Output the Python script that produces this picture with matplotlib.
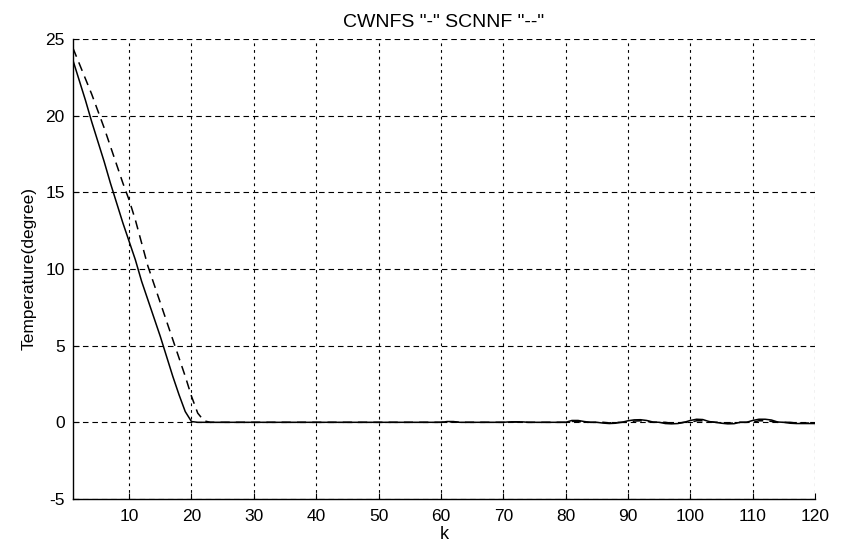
import numpy as np
import matplotlib
matplotlib.use('Agg')
import matplotlib.pyplot as plt

plt.rcParams['font.family'] = ['Liberation Sans', 'DejaVu Sans']
plt.rcParams['axes.unicode_minus'] = False

# solid curve (CWNFS), read at k = 1..120
k = np.arange(1, 121)
cwnfs_drop = [23.6, 22.3, 21.0, 19.6, 18.3, 17.0, 15.6, 14.3, 13.0, 11.8,
              10.6, 9.2, 8.0, 6.8, 5.6, 4.3, 3.0, 1.8, 0.7, 0.05]
cwnfs_tail = {61: 0.05, 62: 0.05, 71: 0.03, 72: 0.03, 73: 0.03,
              81: 0.12, 82: 0.12, 83: 0.05, 86: -0.05, 87: -0.08, 88: -0.06,
              90: 0.1, 91: 0.16, 92: 0.17, 93: 0.12, 94: 0.02, 96: -0.08, 97: -0.1, 98: -0.08,
              100: 0.12, 101: 0.2, 102: 0.18, 103: 0.05, 105: -0.06, 106: -0.1, 107: -0.09,
              110: 0.12, 111: 0.2, 112: 0.2, 113: 0.15, 114: 0.02, 116: -0.06, 117: -0.08,
              118: -0.08, 119: -0.08, 120: -0.08}

# dashed curve (SCNNF)
scnnf_drop = [24.4, 23.4, 22.4, 21.4, 20.3, 19.2, 18.0, 16.8, 15.6, 14.5,
              13.2, 11.7, 10.2, 9.0, 7.8, 6.6, 5.4, 4.2, 3.0, 1.7,
              0.6, 0.1]
scnnf_tail = {61: 0.03, 62: 0.03, 72: 0.02, 81: 0.06, 82: 0.06, 87: -0.04,
              91: 0.08, 92: 0.1, 93: 0.06, 97: -0.06, 98: -0.05,
              101: 0.1, 102: 0.1, 103: 0.04, 106: -0.06, 107: -0.05,
              111: 0.1, 112: 0.1, 113: 0.06, 117: -0.05, 118: -0.05, 119: -0.05, 120: -0.05}

cwnfs = np.zeros(len(k))
cwnfs[:len(cwnfs_drop)] = cwnfs_drop
for kk, v in cwnfs_tail.items():
    cwnfs[kk - 1] = v

scnnf = np.zeros(len(k))
scnnf[:len(scnnf_drop)] = scnnf_drop
for kk, v in scnnf_tail.items():
    scnnf[kk - 1] = v

fig = plt.figure(figsize=(8.42, 5.47), dpi=100)
ax = fig.add_axes([0.0867, 0.0878, 0.8813, 0.8409])

ax.plot(k, cwnfs, color='black', linewidth=1.1)
ax.plot(k, scnnf, color='black', linewidth=1.1, dashes=(6, 4))

ax.set_xlim(1, 120)
ax.set_ylim(-5, 25)
ax.set_xticks(np.arange(10, 121, 10))
ax.set_yticks(np.arange(-5, 26, 5))
ax.xaxis.grid(True, color='black', linewidth=0.8, dashes=(2.5, 3.5))
ax.yaxis.grid(True, color='black', linewidth=0.8, dashes=(5, 3.5))
ax.tick_params(direction='in', length=4, labelsize=12.5, colors='black')
ax.tick_params(axis='x', pad=7)
ax.tick_params(axis='y', pad=6)
for side in ['top', 'right']:
    ax.spines[side].set_visible(False)
for side in ['left', 'bottom']:
    ax.spines[side].set_linewidth(1.0)

ax.set_title('CWNFS "-" SCNNF "--"', fontsize=14, pad=9)
ax.set_xlabel('k', fontsize=13, labelpad=2)
ax.set_ylabel('Temperature(degree)', fontsize=12.5, labelpad=6)

fig.savefig('out.png', dpi=100)
